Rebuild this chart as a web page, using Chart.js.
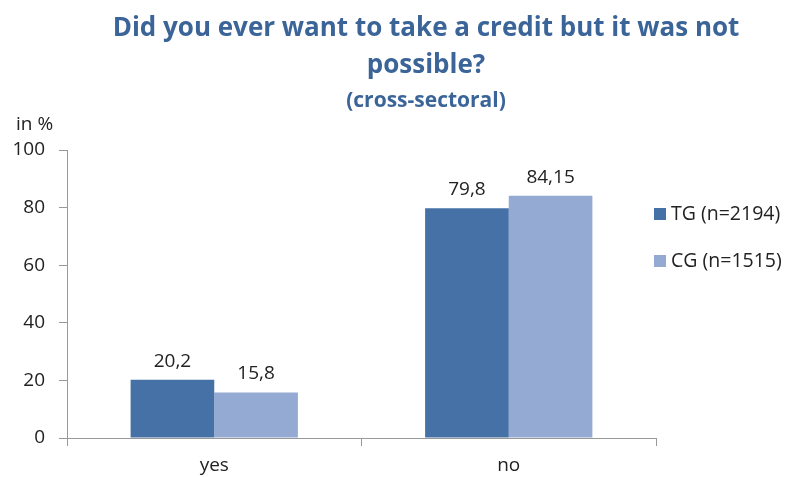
<!DOCTYPE html>
<html>
<head>
<meta charset="utf-8">
<script src="https://cdn.jsdelivr.net/npm/chart.js@4.4.1/dist/chart.umd.min.js"></script>
<style>
  html, body { margin: 0; padding: 0; background: #fff; }
  #wrap { width: 794px; height: 477px; }
</style>
</head>
<body>
<div id="wrap"><canvas id="barChart" width="794" height="477"></canvas></div>
<script>
// chart data
var categories = ['yes', 'no'];
var seriesNames = ['TG (n=2194)', 'CG (n=1515)'];
var tgValues = [20.2, 79.8];
var cgValues = [15.8, 84.15];
var yTicks = [0, 20, 40, 60, 80, 100];
var titleLines = ['Did you ever want to take a credit but it was not', 'possible?'];
var subtitleText = '(cross-sectoral)';
var unitText = 'in %';

var colors = ['#4571a7', '#95aad2'];
var font = "'Open Sans', sans-serif";

// draws the title, unit label, value labels and legend
var extrasPlugin = {
  id: 'extras',
  afterDraw: function(chart) {
    var ctx = chart.ctx;
    ctx.save();

    // title
    ctx.fillStyle = '#3b6499';
    ctx.textAlign = 'center';
    ctx.textBaseline = 'middle';
    ctx.font = 'bold 26px ' + font;
    ctx.fillText(titleLines[0], 426, 29);
    ctx.fillText(titleLines[1], 426, 66);
    ctx.font = 'bold 21px ' + font;
    ctx.fillText(subtitleText, 426, 101);

    // unit label
    ctx.fillStyle = '#222';
    ctx.textAlign = 'left';
    ctx.font = '19px ' + font;
    ctx.fillText(unitText, 16, 125);

    // value labels above bars
    ctx.textAlign = 'center';
    ctx.textBaseline = 'bottom';
    ctx.font = '19px ' + font;
    chart.data.datasets.forEach(function(ds, i) {
      chart.getDatasetMeta(i).data.forEach(function(bar, j) {
        var txt = String(ds.data[j]).replace('.', ',');
        ctx.fillText(txt, bar.x, bar.y - 9);
      });
    });

    // legend
    ctx.textAlign = 'left';
    ctx.textBaseline = 'middle';
    ctx.font = '19.5px ' + font;
    seriesNames.forEach(function(name, i) {
      var y = 214 + i * 47;
      ctx.fillStyle = colors[i];
      ctx.fillRect(654, y - 6, 12, 12);
      ctx.fillStyle = '#222';
      ctx.fillText(name, 671, y);
    });

    ctx.restore();
  }
};

var ctx = document.getElementById('barChart').getContext('2d');
var barChart = new Chart(ctx, {
  type: 'bar',
  data: {
    labels: categories,
    datasets: [{
      label: seriesNames[0],
      data: tgValues,
      backgroundColor: colors[0]
    }, {
      label: seriesNames[1],
      data: cgValues,
      backgroundColor: colors[1]
    }]
  },
  options: {
    responsive: false,
    animation: false,
    layout: { padding: { top: 150, right: 138, left: 0, bottom: 0 } },
    plugins: {
      legend: { display: false },
      tooltip: { enabled: false }
    },
    datasets: {
      bar: { categoryPercentage: 0.568, barPercentage: 1.0 }
    },
    scales: {
      x: {
        grid: {
          offset: true,
          drawOnChartArea: false,
          tickLength: 8,
          color: '#999'
        },
        border: { color: '#999', width: 1 },
        ticks: {
          color: '#222',
          font: { family: font, size: 19 },
          padding: 8
        },
        afterFit: function(scale) { scale.height = 39; }
      },
      y: {
        min: 0,
        max: 100,
        afterBuildTicks: function(scale) {
          scale.ticks = yTicks.map(function(v) { return { value: v }; });
        },
        grid: {
          drawOnChartArea: false,
          tickLength: 8,
          color: '#999'
        },
        border: { color: '#999', width: 1 },
        ticks: {
          color: '#222',
          font: { family: font, size: 19 },
          padding: 14
        },
        afterFit: function(scale) { scale.width = 67; }
      }
    }
  },
  plugins: [extrasPlugin]
});
</script>
</body>
</html>
